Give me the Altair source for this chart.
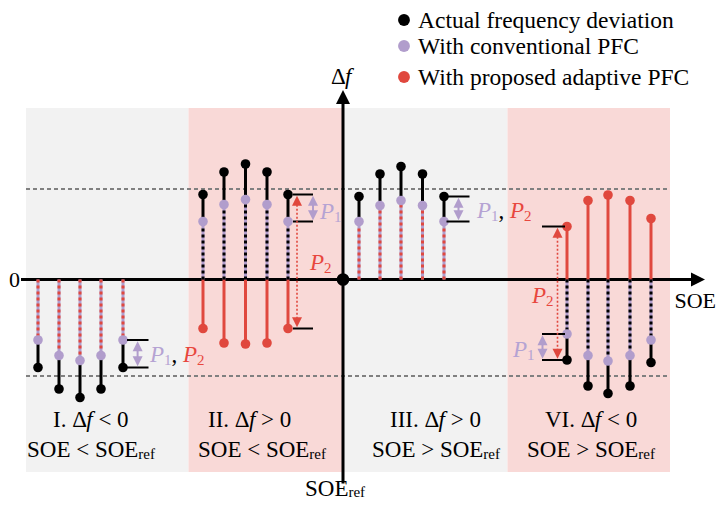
import altair as alt
import pandas as pd

# ---------------- data (SOE relative to SOE_ref, frequency deviation Δf) ----------------
# Region I : SOE < SOE_ref, Δf < 0
soe_I = [-30.5, -28.4, -26.3, -24.2, -22.0]
actual_I = [-8.8, -10.95, -11.8, -10.95, -8.8]
conv_I = [-6.05, -7.6, -8.1, -7.6, -6.05]

# Region II : SOE < SOE_ref, Δf > 0
soe_II = [-14.0, -11.9, -9.75, -7.6, -5.5]
actual_II = [8.5, 10.75, 11.55, 10.75, 8.5]
conv_II = [5.8, 7.5, 8.0, 7.5, 5.8]
adapt_II = [-4.9, -6.35, -6.45, -6.35, -4.9]

# Region III : SOE > SOE_ref, Δf > 0
soe_III = [1.6, 3.7, 5.8, 7.95, 10.1]
actual_III = [8.3, 10.55, 11.3, 10.55, 8.3]
conv_III = [5.8, 7.4, 7.9, 7.4, 5.8]

# Region VI : SOE > SOE_ref, Δf < 0
soe_VI = [22.4, 24.5, 26.5, 28.7, 30.8]
adapt_VI = [5.3, 7.9, 8.45, 7.9, 6.1]
conv_VI = [-5.45, -7.6, -8.15, -7.6, -6.05]
actual_VI = [-8.05, -10.65, -11.4, -10.65, -8.3]

limit_up, limit_down = 9.05, -9.65
band_edges = [-31.7, -15.45, 0.0, 16.45, 32.7]
band_top, band_bottom = 17.15, -19.25
band_colors = ["#f2f2f2", "#f9d9d7", "#f2f2f2", "#f9d9d7"]

legend_labels = ["Actual frequency deviation", "With conventional PFC", "With proposed adaptive PFC"]

BLACK, PURPLE, RED = "#000000", "#b19dcc", "#e0483e"
LPURPLE, LRED = "#b5a3d3", "#e8473e"
FONT = "Liberation Serif"

# ---------------- scale set-up ----------------
PX = 10.0            # pixels per data unit
OX, OY = 343, 279.5  # page position of origin
W, H = 710, 493
XMIN, XMAX = (8 - OX) / PX, (8 + W - OX) / PX
YMAX, YMIN = (OY - 8) / PX, (OY - 8 - H) / PX
xs = alt.Scale(domain=[XMIN, XMAX], nice=False, zero=False)
ys = alt.Scale(domain=[YMIN, YMAX], nice=False, zero=False)

def X(f="x"):
    return alt.X(f"{f}:Q", scale=xs, axis=None)

def Y(f="y"):
    return alt.Y(f"{f}:Q", scale=ys, axis=None)

# ---------------- backgrounds ----------------
bands = pd.DataFrame({"x": band_edges[:-1], "x2": band_edges[1:], "y": band_top,
                      "y2": band_bottom, "c": band_colors})
band_layer = alt.Chart(bands).mark_rect().encode(
    x=X(), x2="x2:Q", y=Y(), y2="y2:Q", color=alt.Color("c:N", scale=None))

thr = pd.DataFrame({"x": band_edges[0], "x2": band_edges[-1], "y": [limit_up, limit_down]})
thr_layer = alt.Chart(thr).mark_rule(color="#808080", strokeWidth=1.8, strokeDash=[4, 3]).encode(
    x=X(), x2="x2:Q", y=Y())

# ---------------- axes ----------------
haxis = alt.Chart(pd.DataFrame({"x": [-32.2], "x2": [35.6], "y": [0.0]})).mark_rule(
    color=BLACK, strokeWidth=3).encode(x=X(), x2="x2:Q", y=Y())
vaxis = alt.Chart(pd.DataFrame({"x": [0.0], "y": [-20.4], "y2": [18.0]})).mark_rule(
    color=BLACK, strokeWidth=3).encode(x=X(), y=Y(), y2="y2:Q")
arrow_r = alt.Chart(pd.DataFrame({"x": [35.5], "y": [0.0]})).mark_point(
    shape="M1,0L-1,-1L-1,1Z", filled=True, size=196, opacity=1, color=BLACK, strokeWidth=0
).encode(x=X(), y=Y())
arrow_u = alt.Chart(pd.DataFrame({"x": [0.0], "y": [18.25]})).mark_point(
    shape="M0,-1L1,1L-1,1Z", filled=True, size=196, opacity=1, color=BLACK, strokeWidth=0
).encode(x=X(), y=Y())
origin = alt.Chart(pd.DataFrame({"x": [0.0], "y": [0.0]})).mark_circle(
    size=160, color=BLACK, opacity=1).encode(x=X(), y=Y())

# ---------------- stems ----------------
seg_rows, dots = [], []

def add(soe, conv, actual, adapt, dash_col):
    for i, s in enumerate(soe):
        seg_rows.append(dict(x=s, y=0.0, y2=conv[i], base=PURPLE, dash=dash_col))
        seg_rows.append(dict(x=s, y=conv[i], y2=actual[i], base=BLACK, dash=None))
        if adapt is not None:
            seg_rows.append(dict(x=s, y=0.0, y2=adapt[i], base=RED, dash=None))
            dots.append(dict(x=s, y=adapt[i], c=RED))
        dots.append(dict(x=s, y=actual[i], c=BLACK))
        dots.append(dict(x=s, y=conv[i], c=PURPLE))

add(soe_I, conv_I, actual_I, None, RED)
add(soe_II, conv_II, actual_II, adapt_II, BLACK)
add(soe_III, conv_III, actual_III, None, RED)
add(soe_VI, conv_VI, actual_VI, adapt_VI, BLACK)

segs = pd.DataFrame(seg_rows)
stem_base = alt.Chart(segs).mark_rule(strokeWidth=3).encode(
    x=X(), y=Y(), y2="y2:Q", color=alt.Color("base:N", scale=None))
stem_dash = alt.Chart(segs.dropna(subset=["dash"])).mark_rule(strokeWidth=3, strokeDash=[3, 3]).encode(
    x=X(), y=Y(), y2="y2:Q", color=alt.Color("dash:N", scale=None))
dot_layer = alt.Chart(pd.DataFrame(dots)).mark_circle(size=92, opacity=1).encode(
    x=X(), y=Y(), color=alt.Color("c:N", scale=None))

# ---------------- annotations (brackets and arrows) ----------------
ticks, p_arrows, r_arrows = [], [], []
# Region I : last stem
s = soe_I[4]
for v in (conv_I[4], actual_I[4]):
    ticks.append(dict(x=s + 0.4, x2=s + 2.55, y=v))
p_arrows.append(dict(x=s + 1.46, top=conv_I[4], bot=actual_I[4]))
# Region II : last stem
s = soe_II[4]
for v in (actual_II[4], conv_II[4], adapt_II[4]):
    ticks.append(dict(x=s + 0.5, x2=s + 2.5, y=v))
p_arrows.append(dict(x=s + 2.5, top=actual_II[4], bot=conv_II[4]))
r_arrows.append(dict(x=s + 0.9, top=actual_II[4], bot=adapt_II[4]))
# Region III : last stem
s = soe_III[4]
for v in (actual_III[4], conv_III[4]):
    ticks.append(dict(x=s + 0.25, x2=s + 2.55, y=v))
p_arrows.append(dict(x=s + 1.45, top=actual_III[4], bot=conv_III[4]))
# Region VI : first stem
s = soe_VI[0]
for v in (adapt_VI[0], conv_VI[0], actual_VI[0]):
    ticks.append(dict(x=s - 2.5, x2=s - 0.2, y=v))
p_arrows.append(dict(x=s - 2.45, top=conv_VI[0], bot=actual_VI[0]))
r_arrows.append(dict(x=s - 0.95, top=adapt_VI[0], bot=actual_VI[0]))

tick_layer = alt.Chart(pd.DataFrame(ticks)).mark_rule(color=BLACK, strokeWidth=2).encode(
    x=X(), x2="x2:Q", y=Y())

def double_arrow(rows, color, dashed):
    df = pd.DataFrame(rows)
    df["up"] = df["top"] - 0.62
    df["dn"] = df["bot"] + 0.62
    line_kw = dict(color=color, strokeWidth=1.6 if dashed else 2)
    if dashed:
        line_kw["strokeDash"] = [2, 2]
    line = alt.Chart(df).mark_rule(**line_kw).encode(x=X(), y=Y("up"), y2="dn:Q")
    up = alt.Chart(df).mark_point(shape="M0,-1L1,1L-1,1Z", filled=True, size=100, opacity=1,
                                  color=color, strokeWidth=0).encode(x=X(), y=Y("up"))
    dn = alt.Chart(df).mark_point(shape="M0,1L1,-1L-1,-1Z", filled=True, size=100, opacity=1,
                                  color=color, strokeWidth=0).encode(x=X(), y=Y("dn"))
    return [line, up, dn]

parrow_layers = double_arrow(p_arrows, PURPLE, False)
rarrow_layers = double_arrow(r_arrows, RED, True)

# ---------------- texts ----------------
TN = {" ": 250, ".": 250, ",": 250, "<": 564, ">": 564, "0": 500, "1": 500, "2": 500,
      "A": 722, "C": 667, "E": 611, "F": 556, "I": 333, "O": 722, "P": 556, "S": 556,
      "V": 722, "W": 944, "a": 444, "c": 444, "d": 500, "e": 444, "f": 333, "h": 500,
      "i": 278, "l": 278, "n": 500, "o": 500, "p": 500, "q": 500, "r": 333, "s": 389,
      "t": 278, "u": 500, "v": 500, "y": 500, "Δ": 612}
TI = {"P": 611, "f": 278}

def width(t, it, size):
    tab = TI if it else TN
    return sum(tab.get(c, TN.get(c, 500)) for c in t) * size / 1000.0

text_rows = []

def place(x0, y0, pieces):
    """pieces: (text, italic, size, color, dy_px)"""
    cur = 0.0
    for t, it, size, col, dy in pieces:
        lead = len(t) - len(t.lstrip(" "))
        cur += width(" " * lead, False, size)
        core = t.strip(" ")
        if core:
            text_rows.append(dict(x=x0 + cur / PX, y=y0 - dy / PX, t=core, it=it, s=size, c=col))
        cur += width(core, it, size)
        trail = len(t) - len(t.rstrip(" ")) if core else 0
        cur += width(" " * trail, False, size)

FS, SUB = 23, 15
# region captions
captions = [("I. Δ", " < 0", "SOE < SOE", -29.0, -31.6),
            ("II. Δ", " > 0", "SOE < SOE", -13.5, -14.5),
            ("III. Δ", " > 0", "SOE > SOE", 4.7, 2.9),
            ("VI. Δ", " < 0", "SOE > SOE", 20.2, 18.4)]
for a, b, c, x1, x2 in captions:
    place(x1, -14.7, [(a, False, FS, BLACK, 0), ("f", True, FS, BLACK, 0), (b, False, FS, BLACK, 0)])
    place(x2, -17.75, [(c, False, FS, BLACK, 0), ("ref", False, SUB, BLACK, 1.5)])

# axis labels
place(-33.4, -0.75, [("0", False, 22, BLACK, 0)])
place(-1.2, 19.55, [("Δ", False, FS, BLACK, 0), ("f", True, FS, BLACK, 0)])
place(33.15, -2.85, [("SOE", False, 22, BLACK, 0)])
place(-3.8, -21.6, [("SOE", False, FS, BLACK, 0), ("ref", False, SUB, BLACK, 1)])

# P labels
p12 = [("P", True, FS, LPURPLE, 0), ("1", False, SUB, LPURPLE, 3), (", ", False, FS, BLACK, 0),
       ("P", True, FS, LRED, 0), ("2", False, SUB, LRED, 3)]
p1 = [("P", True, FS, LPURPLE, 0), ("1", False, SUB, LPURPLE, 3)]
p2 = [("P", True, FS, LRED, 0), ("2", False, SUB, LRED, 3)]
place(-19.3, -8.2, p12)
place(-2.3, 6.05, p1)
place(-3.3, 0.95, p2)
place(13.4, 6.15, p12)
place(18.9, -2.35, p2)
place(17.0, -7.75, p1)

# legend
leg_dots = pd.DataFrame({"x": 6.1, "y": [25.95, 23.35, 20.25], "c": [BLACK, PURPLE, RED]})
leg_dot_layer = alt.Chart(leg_dots).mark_circle(size=140, opacity=1).encode(
    x=X(), y=Y(), color=alt.Color("c:N", scale=None))
for lab, yb in zip(legend_labels, [25.15, 22.55, 19.45]):
    place(7.5, yb, [(lab, False, 23.5, BLACK, 0)])

tdf = pd.DataFrame(text_rows)

def text_layer(df, italic):
    kw = dict(align="left", baseline="alphabetic", font=FONT)
    if italic:
        kw["fontStyle"] = "italic"
    return alt.Chart(df).mark_text(**kw).encode(
        x=X(), y=Y(), text="t:N", size=alt.Size("s:Q", scale=None),
        color=alt.Color("c:N", scale=None))

txt_n = text_layer(tdf[~tdf["it"]], False)
txt_i = text_layer(tdf[tdf["it"]], True)

chart = alt.layer(
    band_layer, thr_layer, haxis, vaxis, arrow_r, arrow_u,
    stem_base, stem_dash, dot_layer, origin, tick_layer,
    *parrow_layers, *rarrow_layers, leg_dot_layer, txt_n, txt_i
).properties(width=W, height=H, padding=0, autosize="none", background="white"
).configure_view(stroke=None)

chart.save("out.html", embed_options={"renderer": "svg", "actions": False})
